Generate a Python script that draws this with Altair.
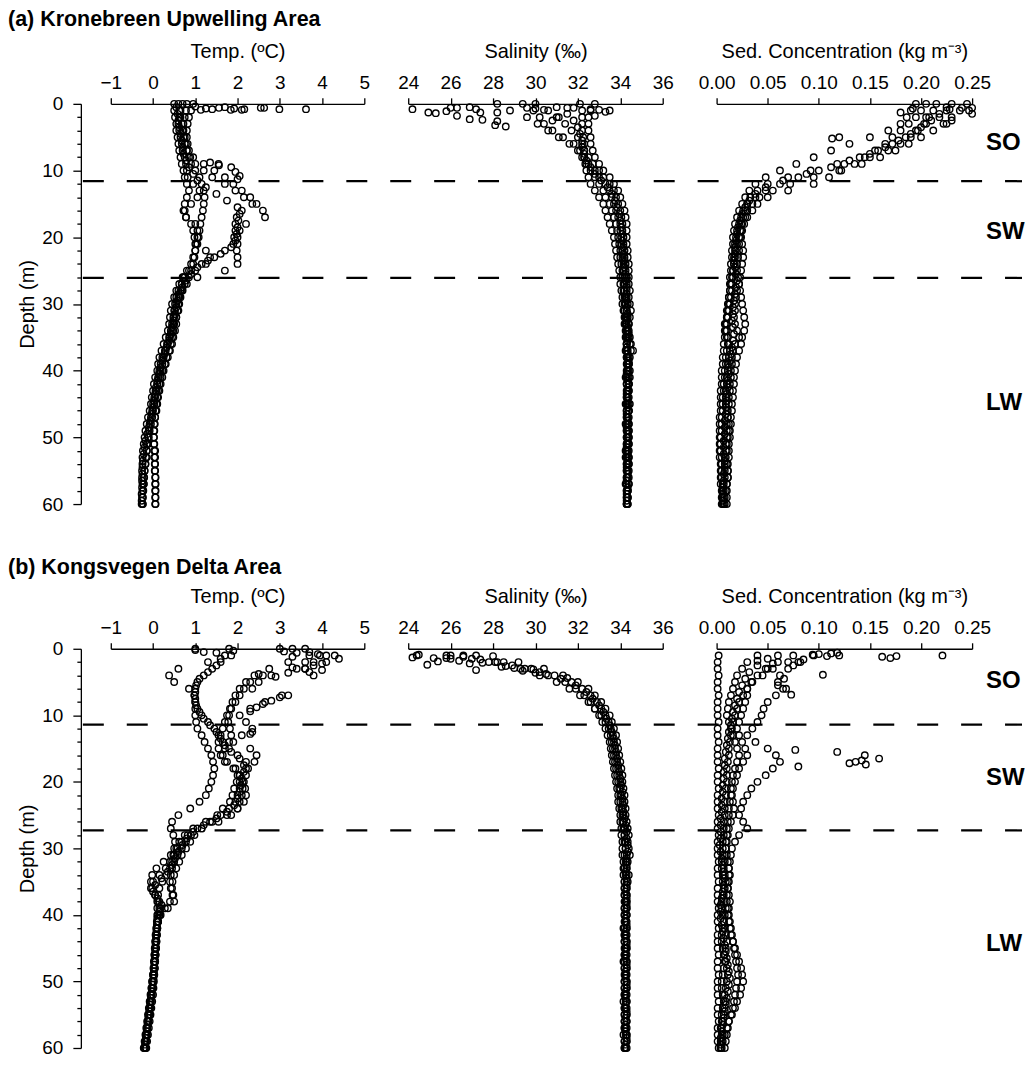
import altair as alt
import pandas as pd

FONT = "Liberation Sans"

# ---------------- depth grids (m) ----------------
DEPTH = [0, 1, 2, 3, 4, 5, 6, 7, 8, 9,
         10, 11, 12, 13, 14, 15, 16, 17, 18, 19,
         20, 21, 22, 23, 24, 25, 26, 27, 28, 29,
         30, 31, 32, 33, 34, 35, 36, 37, 38, 39,
         40, 41, 42, 43, 44, 45, 46, 47, 48, 49,
         50, 51, 52, 53, 54, 55, 56, 57, 58, 59, 60]
DEPTH_HALF = [0.5, 1.5, 2.5, 3.5, 4.5, 5.5, 6.5, 7.5, 8.5, 9.5,
              10.5, 11.5, 12.5, 13.5, 14.5, 15.5, 16.5, 17.5, 18.5, 19.5,
              20.5, 21.5, 22.5, 23.5, 24.5, 25.5, 26.5, 27.5, 28.5, 29.5,
              30.5, 31.5, 32.5, 33.5, 34.5, 35.5, 36.5, 37.5, 38.5, 39.5,
              40.5, 41.5, 42.5, 43.5, 44.5, 45.5, 46.5, 47.5, 48.5, 49.5,
              50.5, 51.5, 52.5, 53.5, 54.5, 55.5, 56.5, 57.5, 58.5, 59.5]
DEPTH_TICKS = [0, 2, 4, 6, 8, 10, 12, 14, 16, 18, 20, 22, 24, 26, 28, 30,
               32, 34, 36, 38, 40, 42, 44, 46, 48, 50, 52, 54, 56, 58, 60]

TEMP_TICKS = [-1, 0, 1, 2, 3, 4, 5]
SAL_TICKS = [24, 26, 28, 30, 32, 34, 36]
SED_TICKS = [0.0, 0.05, 0.10, 0.15, 0.20, 0.25]

ZONE_LABELS = ["SO", "SW", "LW"]
A_ZONE_DEPTH = [5.9, 19.2, 44.8]
B_ZONE_DEPTH = [4.9, 19.4, 44.3]
A_BOUNDARY = [11.6, 26.1]
B_BOUNDARY = [11.4, 27.3]

TITLE_A = "(a) Kronebreen Upwelling Area"
TITLE_B = "(b) Kongsvegen Delta Area"

# ---------------- (a) temperature profiles ----------------
A_TEMP_1 = [0.50, 0.50, 0.52, 0.55, 0.55, 0.58, 0.60, 0.62, 0.65, 0.68,
            0.72, 0.75, 0.80, 0.85, 0.80, 0.75, 0.72, 0.78, 0.90, 0.95,
            0.98, 1.00, 1.00, 0.98, 0.95, 0.85, 0.72, 0.62, 0.55, 0.50,
            0.45, 0.42, 0.40, 0.38, 0.35, 0.30, 0.25, 0.20, 0.15, 0.12,
            0.10, 0.05, 0.02, 0.00, -0.03, -0.05, -0.08, -0.12, -0.15, -0.18,
            -0.20, -0.22, -0.24, -0.25, -0.25, -0.26, -0.26, -0.25, -0.25, -0.26, -0.27]
A_TEMP_2 = [0.80, 0.78, 0.75, 0.72, 0.72, 0.75, 0.78, 0.80, 0.85, 0.90,
            1.00, 1.10, 1.15, 1.20, 1.22, 1.20, 1.18, 1.15, 1.12, 1.10,
            1.08, 1.05, 1.00, 0.95, 0.90, 0.80, 0.70, 0.68, 0.65, 0.62,
            0.60, 0.58, 0.55, 0.55, 0.52, 0.48, 0.45, 0.40, 0.35, 0.30,
            0.25, 0.22, 0.18, 0.15, 0.12, 0.10, 0.08, 0.05, 0.03, 0.02,
            0.02, 0.03, 0.05, 0.05, 0.05, 0.05, 0.06, 0.06, 0.05, 0.05, 0.05]
A_TEMP_3 = [0.95, 0.90, 0.85, 0.82, 0.80, 0.80, 0.82, 0.85, 0.95, 1.20,
            1.45, 1.70, 1.90, 2.10, 2.30, 2.45, 2.60, 2.65, 2.20, 2.05,
            2.00, 2.00, 1.98, 2.00, 2.00, 1.70, 1.05, 0.80, 0.70, 0.65,
            0.62, 0.60, 0.55, 0.50, 0.48, 0.45, 0.42, 0.38, 0.32, 0.28,
            0.22, 0.18, 0.15, 0.12, 0.10, 0.08, 0.06, 0.05, 0.04, 0.03,
            0.02, 0.02, 0.03, 0.03, 0.04, 0.04, 0.05, 0.05, 0.06, 0.06, 0.06]
A_TEMP_4 = [0.60, 0.62, 0.65, 0.68, 0.70, 0.72, 0.75, 0.80, 0.88, 1.00,
            1.20, 1.40, 1.70, 1.95, 2.15, 2.35, 2.10, 1.98, 1.95, 1.95,
            1.92, 1.90, 1.70, 1.45, 1.25, 1.00, 0.85, 0.75, 0.68, 0.60,
            0.55, 0.52, 0.50, 0.48, 0.45, 0.40, 0.35, 0.30, 0.25, 0.22,
            0.18, 0.14, 0.10, 0.08, 0.05, 0.03, 0.00, -0.02, -0.05, -0.08,
            -0.10, -0.12, -0.15, -0.15, -0.18, -0.20, -0.22, -0.22, -0.24, -0.25, -0.25]
A_TEMP_5 = [0.70, 0.65, 0.62, 0.60, 0.62, 0.65, 0.68, 0.70, 0.75, 0.78,
            0.80, 0.82, 0.95, 1.10, 1.05, 0.90, 0.75, 0.78, 1.00, 1.05,
            1.05, 1.02, 1.25, 1.35, 1.15, 0.90, 0.75, 0.68, 0.60, 0.55,
            0.52, 0.50, 0.48, 0.45, 0.42, 0.38, 0.33, 0.28, 0.22, 0.18,
            0.15, 0.12, 0.10, 0.06, 0.03, 0.00, -0.02, -0.05, -0.08, -0.10,
            -0.12, -0.15, -0.15, -0.17, -0.18, -0.20, -0.21, -0.22, -0.23, -0.24, -0.24]
A_TEMP_HALF = [0.55, 0.58, 0.60, 0.62, 0.65, 0.68, 0.70, 0.72, 0.78, 0.85,
               0.95, 1.05, 1.25, 1.50, 1.75, 2.00, 2.05, 2.02, 2.00, 1.98,
               1.95, 1.85, 1.60, 1.30, 1.05, 0.90, 0.78, 0.70, 0.62, 0.58,
               0.55, 0.52, 0.48, 0.45, 0.42, 0.38, 0.32, 0.27, 0.22, 0.18,
               0.14, 0.10, 0.07, 0.05, 0.02, 0.00, -0.03, -0.06, -0.10, -0.14,
               -0.18, -0.20, -0.22, -0.24, -0.25, -0.25, -0.26, -0.26, -0.27, -0.27]
A_TEMP_EXTRA_DEPTH = [0.9, 0.7, 0.8, 0.6, 0.9, 0.7, 0.8, 0.9, 0.6, 0.6, 0.8, 0.8, 0.5, 0.4,
                      9.5, 10.2, 10.8, 11.3, 9.0, 8.8, 9.2]
A_TEMP_EXTRA_VALUE = [1.13, 1.25, 1.40, 1.56, 1.84, 1.92, 2.16, 2.10, 2.55, 2.63, 2.99, 3.62, 1.70, 1.00,
                      1.85, 1.95, 2.05, 2.00, 1.55, 1.35, 1.56]

# ---------------- (a) salinity profiles ----------------
A_SAL_1 = [28.2, 28.8, 29.6, 30.1, 30.6, 31.1, 31.6, 32.0, 32.2, 32.4,
           32.6, 32.8, 33.0, 33.2, 33.3, 33.5, 33.6, 33.7, 33.8, 33.85,
           33.9, 33.95, 34.0, 34.0, 34.05, 34.1, 34.1, 34.15, 34.15, 34.2,
           34.2, 34.2, 34.25, 34.25, 34.3, 34.3, 34.3, 34.3, 34.3, 34.35,
           34.35, 34.3, 34.3, 34.35, 34.3, 34.3, 34.3, 34.3, 34.3, 34.3,
           34.3, 34.3, 34.25, 34.3, 34.3, 34.3, 34.3, 34.3, 34.3, 34.3, 34.3]
A_SAL_2 = [29.4, 29.9, 30.2, 30.4, 30.8, 31.3, 31.8, 32.1, 32.3, 32.5,
           32.8, 33.0, 33.3, 33.5, 33.6, 33.7, 33.8, 33.9, 34.0, 34.0,
           34.05, 34.05, 34.1, 34.1, 34.15, 34.15, 34.2, 34.2, 34.2, 34.25,
           34.25, 34.3, 34.3, 34.3, 34.35, 34.35, 34.3, 34.35, 34.35, 34.4,
           34.35, 34.35, 34.4, 34.35, 34.35, 34.35, 34.4, 34.35, 34.35, 34.35,
           34.35, 34.4, 34.35, 34.35, 34.35, 34.35, 34.35, 34.3, 34.35, 34.35, 34.35]
A_SAL_3 = [30.0, 30.6, 31.1, 31.4, 31.7, 32.0, 32.2, 32.3, 32.5, 32.7,
           33.0, 33.2, 33.5, 33.7, 33.8, 33.9, 34.0, 34.05, 34.1, 34.1,
           34.15, 34.15, 34.2, 34.2, 34.25, 34.25, 34.3, 34.3, 34.3, 34.3,
           34.35, 34.3, 34.35, 34.4, 34.35, 34.4, 34.45, 34.5, 34.4, 34.4,
           34.45, 34.4, 34.4, 34.4, 34.35, 34.4, 34.4, 34.35, 34.4, 34.4,
           34.4, 34.35, 34.4, 34.4, 34.4, 34.35, 34.4, 34.4, 34.35, 34.35, 34.3]
A_SAL_4 = [32.1, 32.2, 32.2, 32.2, 32.2, 32.25, 32.3, 32.3, 32.3, 32.35,
           32.4, 32.5, 32.6, 32.8, 33.0, 33.2, 33.3, 33.4, 33.5, 33.6,
           33.7, 33.75, 33.8, 33.85, 33.9, 33.95, 34.0, 34.0, 34.05, 34.1,
           34.1, 34.15, 34.2, 34.2, 34.25, 34.25, 34.3, 34.25, 34.3, 34.3,
           34.3, 34.25, 34.3, 34.3, 34.3, 34.25, 34.3, 34.3, 34.25, 34.3,
           34.3, 34.3, 34.3, 34.25, 34.3, 34.3, 34.3, 34.25, 34.3, 34.3, 34.3]
A_SAL_5 = [32.8, 32.6, 32.5, 32.5, 32.5, 32.6, 32.6, 32.7, 32.8, 33.0,
           33.2, 33.5, 33.7, 33.9, 34.0, 34.1, 34.2, 34.25, 34.3, 34.3,
           34.3, 34.3, 34.35, 34.35, 34.4, 34.4, 34.4, 34.4, 34.45, 34.4,
           34.45, 34.5, 34.45, 34.4, 34.4, 34.45, 34.5, 34.6, 34.45, 34.4,
           34.4, 34.45, 34.4, 34.4, 34.4, 34.45, 34.4, 34.4, 34.4, 34.4,
           34.4, 34.4, 34.35, 34.4, 34.4, 34.4, 34.35, 34.4, 34.35, 34.35, 34.35]
A_SAL_HALF = [31.0, 31.5, 31.8, 32.0, 32.1, 32.2, 32.2, 32.3, 32.4, 32.6,
              32.8, 33.1, 33.4, 33.6, 33.75, 33.85, 33.95, 34.0, 34.05, 34.1,
              34.1, 34.15, 34.15, 34.2, 34.2, 34.25, 34.25, 34.3, 34.3, 34.3,
              34.3, 34.35, 34.3, 34.35, 34.4, 34.35, 34.3, 34.35, 34.4, 34.35,
              34.3, 34.35, 34.35, 34.3, 34.35, 34.35, 34.3, 34.35, 34.3, 34.35,
              34.35, 34.3, 34.35, 34.35, 34.3, 34.35, 34.3, 34.35, 34.3, 34.3]
A_SAL_EXTRA_DEPTH = [0.8, 1.3, 1.4, 1.1, 0.6, 1.8, 0.6, 2.3, 0.5, 0.8, 1.3, 2.4, 1.3, 3.2,
                     2.6, 3.4, 0.6, 0.7, 0.9, 0.6, 0.6, 0.8, 0.9, 1.2, 1.0, 1.8, 2.0, 2.5]
A_SAL_EXTRA_VALUE = [24.2, 24.95, 25.3, 25.8, 26.0, 26.3, 26.3, 26.9, 26.9, 27.2, 27.4, 27.5, 28.2, 28.1,
                     28.2, 28.6, 29.6, 30.0, 30.4, 31.5, 31.8, 32.6, 33.0, 33.3, 33.5, 32.8, 31.0, 30.8]

# ---------------- (a) sediment concentration profiles ----------------
A_SED_1 = [0.245, 0.238, 0.230, 0.222, 0.212, 0.200, 0.188, 0.175, 0.160, 0.142,
           0.120, 0.095, 0.072, 0.055, 0.042, 0.035, 0.030, 0.028, 0.025, 0.024,
           0.023, 0.022, 0.022, 0.021, 0.020, 0.020, 0.021, 0.022, 0.020, 0.019,
           0.018, 0.018, 0.017, 0.018, 0.020, 0.022, 0.018, 0.016, 0.015, 0.015,
           0.014, 0.014, 0.013, 0.013, 0.012, 0.012, 0.011, 0.011, 0.010, 0.010,
           0.010, 0.009, 0.009, 0.008, 0.008, 0.008, 0.008, 0.007, 0.007, 0.007, 0.007]
A_SED_2 = [0.215, 0.212, 0.208, 0.203, 0.197, 0.190, 0.180, 0.168, 0.150, 0.125,
           0.100, 0.080, 0.062, 0.048, 0.038, 0.030, 0.026, 0.024, 0.022, 0.020,
           0.019, 0.018, 0.018, 0.017, 0.017, 0.016, 0.016, 0.015, 0.015, 0.014,
           0.013, 0.012, 0.010, 0.008, 0.009, 0.010, 0.011, 0.010, 0.009, 0.009,
           0.008, 0.008, 0.007, 0.007, 0.006, 0.006, 0.006, 0.005, 0.005, 0.005,
           0.004, 0.004, 0.004, 0.005, 0.005, 0.005, 0.005, 0.006, 0.006, 0.006, 0.006]
A_SED_3 = [0.195, 0.190, 0.186, 0.180, 0.168, 0.150, 0.130, 0.112, 0.095, 0.078,
           0.062, 0.048, 0.038, 0.032, 0.028, 0.025, 0.022, 0.020, 0.018, 0.017,
           0.016, 0.016, 0.015, 0.015, 0.014, 0.014, 0.013, 0.013, 0.013, 0.012,
           0.012, 0.011, 0.011, 0.010, 0.010, 0.011, 0.012, 0.013, 0.012, 0.011,
           0.011, 0.010, 0.010, 0.009, 0.009, 0.009, 0.010, 0.011, 0.012, 0.012,
           0.011, 0.010, 0.010, 0.009, 0.010, 0.011, 0.011, 0.010, 0.009, 0.008, 0.008]
A_SED_4 = [0.230, 0.225, 0.218, 0.205, 0.195, 0.185, 0.172, 0.158, 0.140, 0.118,
           0.092, 0.070, 0.050, 0.040, 0.033, 0.030, 0.028, 0.026, 0.024, 0.023,
           0.024, 0.025, 0.026, 0.026, 0.025, 0.024, 0.023, 0.022, 0.023, 0.024,
           0.025, 0.026, 0.027, 0.028, 0.027, 0.025, 0.024, 0.022, 0.020, 0.019,
           0.018, 0.017, 0.017, 0.016, 0.016, 0.015, 0.015, 0.014, 0.014, 0.013,
           0.013, 0.012, 0.012, 0.012, 0.011, 0.011, 0.011, 0.010, 0.010, 0.010, 0.010]
A_SED_5 = [0.205, 0.200, 0.195, 0.188, 0.180, 0.172, 0.165, 0.155, 0.145, 0.135,
           0.122, 0.110, 0.095, 0.070, 0.050, 0.040, 0.035, 0.030, 0.027, 0.025,
           0.022, 0.020, 0.019, 0.018, 0.017, 0.016, 0.015, 0.014, 0.013, 0.012,
           0.011, 0.010, 0.010, 0.009, 0.008, 0.008, 0.007, 0.007, 0.006, 0.006,
           0.005, 0.005, 0.005, 0.004, 0.004, 0.004, 0.004, 0.003, 0.003, 0.003,
           0.003, 0.003, 0.003, 0.003, 0.004, 0.004, 0.004, 0.004, 0.005, 0.005, 0.005]
A_SED_HALF = [0.225, 0.218, 0.210, 0.200, 0.190, 0.178, 0.165, 0.150, 0.130, 0.112,
              0.088, 0.065, 0.048, 0.038, 0.032, 0.028, 0.025, 0.023, 0.021, 0.020,
              0.019, 0.018, 0.018, 0.017, 0.018, 0.019, 0.020, 0.019, 0.018, 0.017,
              0.016, 0.016, 0.015, 0.016, 0.017, 0.016, 0.015, 0.014, 0.013, 0.012,
              0.012, 0.011, 0.011, 0.010, 0.010, 0.009, 0.009, 0.008, 0.008, 0.008,
              0.007, 0.007, 0.007, 0.008, 0.008, 0.007, 0.007, 0.006, 0.006, 0.006]
A_SED_EXTRA_DEPTH = [0.6, 0.6, 1.0, 1.5, 0.8, 2.0, 1.3, 0.7, 2.5, 3.0, 5.0, 5.2]
A_SED_EXTRA_VALUE = [0.240, 0.250, 0.247, 0.250, 0.228, 0.205, 0.180, 0.192, 0.230, 0.225, 0.120, 0.113]

# ---------------- (b) temperature profiles ----------------
B_TEMP_1 = [1.00, 1.70, 1.30, 0.60, 0.38, 0.50, 0.85, 0.98, 1.00, 1.00,
            1.00, 1.02, 1.05, 1.15, 1.22, 1.30, 1.38, 1.42, 1.45, 1.42,
            1.38, 1.32, 1.25, 1.10, 0.88, 0.60, 0.45, 0.42, 0.48, 0.52,
            0.50, 0.42, 0.25, 0.08, -0.02, -0.05, -0.02, 0.05, 0.12, 0.15,
            0.12, 0.10, 0.08, 0.06, 0.05, 0.04, 0.03, 0.02, 0.01, 0.00,
            -0.02, -0.04, -0.06, -0.08, -0.10, -0.12, -0.14, -0.16, -0.18, -0.20, -0.22]
B_TEMP_2 = [1.80, 1.85, 1.60, 1.40, 1.20, 1.05, 1.00, 0.98, 1.00, 1.05,
            1.15, 1.30, 1.45, 1.55, 1.65, 1.80, 2.00, 2.20, 2.25, 2.20,
            2.15, 2.12, 2.10, 2.05, 2.00, 1.85, 1.55, 1.15, 0.90, 0.78,
            0.68, 0.58, 0.50, 0.45, 0.42, 0.40, 0.42, 0.48, 0.50, 0.35,
            0.18, 0.12, 0.10, 0.08, 0.07, 0.06, 0.05, 0.04, 0.03, 0.02,
            0.00, -0.02, -0.04, -0.06, -0.08, -0.10, -0.12, -0.14, -0.16, -0.18, -0.20]
B_TEMP_3 = [3.00, 3.70, 3.20, 2.75, 2.40, 2.20, 2.05, 1.95, 1.88, 1.82,
            1.75, 1.70, 1.65, 1.60, 1.55, 1.55, 1.60, 1.75, 1.95, 2.05,
            2.12, 2.18, 2.20, 2.15, 2.00, 1.75, 1.40, 1.05, 0.82, 0.68,
            0.58, 0.50, 0.45, 0.40, 0.32, 0.22, 0.15, 0.12, 0.10, 0.10,
            0.10, 0.09, 0.08, 0.07, 0.06, 0.05, 0.04, 0.03, 0.02, 0.00,
            -0.02, -0.03, -0.05, -0.06, -0.08, -0.10, -0.12, -0.14, -0.15, -0.17, -0.18]
B_TEMP_4 = [3.60, 4.30, 4.10, 3.60, 2.80, 2.50, 2.35, 3.05, 2.65, 2.30,
            2.05, 2.20, 2.35, 2.10, 1.90, 2.30, 2.45, 2.40, 2.20, 2.05,
            1.98, 1.92, 1.88, 1.82, 1.65, 1.52, 1.35, 1.15, 0.98, 0.88,
            0.78, 0.68, 0.62, 0.55, 0.50, 0.46, 0.45, 0.46, 0.40, 0.28,
            0.16, 0.12, 0.10, 0.09, 0.08, 0.07, 0.06, 0.05, 0.04, 0.03,
            0.02, 0.01, 0.00, -0.02, -0.04, -0.06, -0.08, -0.10, -0.12, -0.14, -0.16]
B_TEMP_5 = [3.30, 3.95, 3.80, 3.40, 2.60, 2.30, 2.15, 2.05, 1.95, 1.85,
            1.80, 1.78, 1.82, 1.85, 1.80, 1.70, 1.65, 1.70, 1.90, 2.00,
            2.05, 2.05, 2.00, 1.95, 1.80, 1.60, 1.25, 0.95, 0.75, 0.62,
            0.55, 0.48, 0.40, 0.30, 0.15, 0.00, -0.05, 0.05, 0.15, 0.18,
            0.15, 0.12, 0.10, 0.09, 0.08, 0.07, 0.06, 0.05, 0.04, 0.02,
            0.00, -0.02, -0.03, -0.05, -0.07, -0.09, -0.11, -0.13, -0.15, -0.17, -0.19]
B_TEMP_HALF = [1.20, 1.60, 1.50, 1.30, 1.10, 1.02, 1.00, 1.00, 1.02, 1.10,
               1.20, 1.35, 1.50, 1.60, 1.70, 1.85, 2.05, 2.15, 2.15, 2.10,
               2.08, 2.05, 2.00, 1.92, 1.75, 1.50, 1.20, 0.95, 0.80, 0.70,
               0.60, 0.52, 0.45, 0.35, 0.20, 0.05, 0.00, 0.10, 0.20, 0.15,
               0.10, 0.09, 0.08, 0.07, 0.06, 0.05, 0.04, 0.03, 0.02, 0.01,
               -0.01, -0.03, -0.05, -0.07, -0.09, -0.11, -0.13, -0.15, -0.17, -0.19]
B_TEMP_EXTRA_DEPTH = [0.4, 0.6, 0.5, 0.8, 1.0, 1.5, 2.0, 2.2, 2.5, 3.0, 3.2, 3.5, 4.0, 1.2, 2.8,
                      3.6, 4.2, 0.3, 0.6, 7.0, 7.3, 7.8, 8.3, 8.8, 9.4, 12.5, 12.8, 0.2, 3.8]
B_TEMP_EXTRA_VALUE = [3.10, 3.40, 3.70, 3.90, 4.10, 4.40, 3.60, 4.00, 3.80, 3.60, 4.00, 3.70, 3.80, 3.30, 3.30,
                      3.20, 2.90, 1.90, 1.50, 3.20, 3.00, 2.80, 2.60, 2.45, 2.30, 2.35, 2.30, 1.00, 2.50]

# ---------------- (b) salinity profiles ----------------
B_SAL_1 = [None, 24.4, 27.8, 29.3, 30.6, 31.4, 31.9, 32.3, 32.6, 32.8,
           33.0, 33.15, 33.3, 33.4, 33.5, 33.55, 33.6, 33.65, 33.7, 33.75,
           33.8, 33.85, 33.9, 33.9, 33.95, 34.0, 34.0, 34.05, 34.05, 34.1,
           34.1, 34.1, 34.15, 34.15, 34.15, 34.2, 34.2, 34.2, 34.2, 34.2,
           34.2, 34.2, 34.15, 34.2, 34.2, 34.2, 34.2, 34.15, 34.2, 34.2,
           34.2, 34.2, 34.2, 34.15, 34.2, 34.2, 34.2, 34.2, 34.15, 34.2, 34.2]
B_SAL_2 = [None, 25.8, 28.5, 29.8, 30.9, 31.7, 32.2, 32.6, 32.9, 33.1,
           33.3, 33.45, 33.55, 33.65, 33.7, 33.75, 33.8, 33.85, 33.9, 33.95,
           34.0, 34.0, 34.05, 34.1, 34.1, 34.15, 34.15, 34.2, 34.2, 34.25,
           34.25, 34.3, 34.3, 34.3, 34.3, 34.3, 34.3, 34.3, 34.3, 34.3,
           34.3, 34.25, 34.3, 34.3, 34.3, 34.3, 34.25, 34.3, 34.3, 34.3,
           34.3, 34.3, 34.25, 34.3, 34.3, 34.3, 34.3, 34.25, 34.3, 34.3, 34.3]
B_SAL_3 = [None, 27.2, 29.2, 30.4, 31.3, 32.0, 32.5, 32.8, 33.1, 33.3,
           33.5, 33.6, 33.7, 33.8, 33.85, 33.9, 33.95, 34.0, 34.05, 34.1,
           34.1, 34.15, 34.2, 34.2, 34.25, 34.25, 34.3, 34.35, 34.4, 34.35,
           34.4, 34.45, 34.35, 34.3, 34.4, 34.35, 34.3, 34.3, 34.3, 34.3,
           34.3, 34.3, 34.3, 34.25, 34.3, 34.3, 34.3, 34.3, 34.3, 34.25,
           34.3, 34.3, 34.3, 34.3, 34.25, 34.3, 34.3, 34.3, 34.3, 34.3, 34.25]
B_SAL_4 = [None, 26.6, 28.2, 29.5, 30.2, 31.0, 31.6, 32.1, 32.5, 32.8,
           33.1, 33.3, 33.45, 33.55, 33.6, 33.65, 33.7, 33.75, 33.8, 33.85,
           33.9, 33.95, 34.0, 34.0, 34.05, 34.1, 34.1, 34.15, 34.2, 34.2,
           34.25, 34.2, 34.25, 34.2, 34.25, 34.2, 34.2, 34.2, 34.25, 34.2,
           34.2, 34.25, 34.2, 34.2, 34.2, 34.25, 34.2, 34.2, 34.2, 34.25,
           34.2, 34.2, 34.2, 34.25, 34.2, 34.2, 34.2, 34.2, 34.25, 34.2, 34.2]
B_SAL_HALF = [None, 26.0, 28.9, 30.2, 31.2, 31.9, 32.4, 32.7, 33.0, 33.2,
              33.35, 33.5, 33.6, 33.7, 33.75, 33.8, 33.85, 33.9, 33.95, 34.0,
              34.05, 34.1, 34.1, 34.15, 34.15, 34.2, 34.25, 34.3, 34.3, 34.35,
              34.35, 34.3, 34.3, 34.25, 34.3, 34.3, 34.25, 34.3, 34.3, 34.25,
              34.25, 34.3, 34.25, 34.25, 34.3, 34.25, 34.25, 34.3, 34.25, 34.25,
              34.3, 34.25, 34.25, 34.25, 34.3, 34.25, 34.25, 34.25, 34.3, 34.25]
B_SAL_EXTRA_DEPTH = [1.3, 0.9, 2.4, 1.4, 1.9, 1.4, 1.0, 1.8, 1.2, 2.2, 3.2, 1.6,
                     1.1, 2.0, 2.6, 1.5, 2.9, 3.3, 3.6, 2.1, 2.7, 3.1, 4.4, 3.8]
B_SAL_EXTRA_VALUE = [24.2, 24.5, 24.9, 25.2, 25.4, 25.8, 26.0, 26.4, 26.6, 26.9, 27.2, 27.4,
                     28.0, 28.1, 28.6, 27.0, 29.0, 29.4, 30.0, 27.5, 28.4, 29.9, 31.5, 30.5]

# ---------------- (b) sediment concentration profiles ----------------
B_SED_1 = [None, 0.002, 0.001, 0.001, 0.002, 0.001, 0.001, 0.002, 0.001, 0.001,
           0.001, 0.002, 0.001, 0.001, 0.002, 0.001, 0.001, 0.001, 0.002, 0.001,
           0.001, 0.002, 0.001, 0.001, 0.001, 0.002, 0.001, 0.001, 0.002, 0.001,
           0.001, 0.001, 0.002, 0.001, 0.001, 0.002, 0.001, 0.001, 0.001, 0.002,
           0.001, 0.001, 0.002, 0.001, 0.001, 0.001, 0.002, 0.001, 0.001, 0.002,
           0.001, 0.001, 0.001, 0.002, 0.001, 0.001, 0.002, 0.001, 0.001, 0.001, 0.002]
B_SED_2 = [None, 0.075, 0.060, 0.048, 0.040, 0.034, 0.030, 0.026, 0.022, 0.020,
           0.018, 0.016, 0.015, 0.014, 0.013, 0.012, 0.012, 0.011, 0.010, 0.010,
           0.010, 0.009, 0.009, 0.008, 0.008, 0.008, 0.007, 0.007, 0.007, 0.006,
           0.006, 0.006, 0.005, 0.005, 0.006, 0.006, 0.007, 0.006, 0.005, 0.005,
           0.006, 0.007, 0.006, 0.005, 0.005, 0.006, 0.007, 0.008, 0.007, 0.006,
           0.005, 0.005, 0.006, 0.007, 0.006, 0.005, 0.005, 0.004, 0.005, 0.004, 0.004]
B_SED_3 = [None, 0.095, 0.082, 0.070, 0.062, 0.060, 0.065, 0.058, 0.050, 0.046,
           0.044, 0.040, 0.035, 0.030, 0.038, 0.050, 0.058, 0.062, 0.055, 0.048,
           0.040, 0.034, 0.030, 0.026, 0.024, 0.022, 0.026, 0.030, 0.022, 0.018,
           0.015, 0.014, 0.013, 0.012, 0.012, 0.011, 0.011, 0.012, 0.013, 0.012,
           0.011, 0.012, 0.013, 0.014, 0.016, 0.018, 0.020, 0.022, 0.024, 0.025,
           0.026, 0.024, 0.023, 0.020, 0.018, 0.015, 0.012, 0.010, 0.008, 0.006, 0.005]
B_SED_4 = [None, 0.040, 0.030, 0.025, 0.020, 0.018, 0.016, 0.014, 0.012, 0.011,
           0.010, 0.012, 0.014, 0.016, 0.018, 0.020, 0.022, 0.020, 0.018, 0.016,
           0.015, 0.014, 0.014, 0.013, 0.012, 0.012, 0.011, 0.010, 0.010, 0.009,
           0.009, 0.010, 0.011, 0.012, 0.013, 0.012, 0.011, 0.010, 0.010, 0.011,
           0.012, 0.013, 0.014, 0.015, 0.016, 0.017, 0.018, 0.019, 0.020, 0.021,
           0.020, 0.019, 0.018, 0.017, 0.016, 0.014, 0.012, 0.011, 0.010, 0.009, 0.008]
B_SED_5 = [None, 0.060, 0.070, 0.055, 0.045, 0.035, 0.030, 0.030, 0.028, 0.026,
           0.024, 0.022, 0.020, 0.022, 0.025, 0.028, 0.030, 0.026, 0.022, 0.020,
           0.018, 0.016, 0.015, 0.016, 0.017, 0.016, 0.014, 0.012, 0.011, 0.010,
           0.009, 0.008, 0.008, 0.007, 0.008, 0.009, 0.008, 0.007, 0.008, 0.009,
           0.008, 0.007, 0.008, 0.009, 0.010, 0.009, 0.008, 0.009, 0.010, 0.011,
           0.010, 0.009, 0.008, 0.009, 0.008, 0.007, 0.006, 0.005, 0.006, 0.005, 0.004]
B_SED_HALF = [None, 0.050, 0.040, 0.032, 0.028, 0.025, 0.022, 0.020, 0.018, 0.016,
              0.015, 0.014, 0.012, 0.011, 0.010, 0.009, 0.008, 0.008, 0.007, 0.007,
              0.006, 0.006, 0.005, 0.005, 0.005, 0.004, 0.004, 0.004, 0.004, 0.003,
              0.004, 0.005, 0.006, 0.007, 0.008, 0.007, 0.006, 0.005, 0.004, 0.004,
              0.004, 0.005, 0.006, 0.007, 0.008, 0.009, 0.010, 0.011, 0.012, 0.013,
              0.012, 0.011, 0.010, 0.009, 0.008, 0.007, 0.006, 0.005, 0.004, 0.004]
B_SED_EXTRA_DEPTH = [0.9, 0.8, 1.1, 0.7, 0.6, 1.0, 1.2, 1.4, 1.1, 1.0, 3.9, 6.9, 2.0, 2.5, 15.2,
                     17.7, 15.5, 17.2, 17.0, 16.8, 16.0, 16.5, 17.4, 4.5, 5.5, 6.0, 3.0, 2.2, 1.6, 1.8]
B_SED_EXTRA_VALUE = [0.094, 0.100, 0.108, 0.112, 0.118, 0.120, 0.162, 0.170, 0.176, 0.221, 0.104, 0.073, 0.080, 0.075, 0.077,
                     0.080, 0.118, 0.130, 0.136, 0.142, 0.145, 0.159, 0.146, 0.066, 0.060, 0.068, 0.050, 0.055, 0.085, 0.040]


def build_df(profiles, half_profile, extra_d, extra_v):
    rows = []
    for prof in profiles:
        for d, v in zip(DEPTH, prof):
            if v is not None:
                rows.append((d, v))
    for d, v in zip(DEPTH_HALF, half_profile):
        if v is not None:
            rows.append((d, v))
    rows += list(zip(extra_d, extra_v))
    return pd.DataFrame(rows, columns=["depth", "value"])


Y_SCALE = alt.Scale(domain=[0, 60], reverse=True, nice=False, zero=False)


def y_enc(show_axis):
    if show_axis:
        axis = alt.Axis(
            orient="left", offset=30, title="Depth (m)", values=DEPTH_TICKS,
            labelExpr="datum.value % 10 === 0 ? datum.label : ''",
            tickSize={"condition": {"test": "datum.value % 10 === 0", "value": 8}, "value": 4},
            labelPadding=10, titlePadding=4, labelFlush=False,
        )
        return alt.Y("depth:Q", scale=Y_SCALE, axis=axis)
    return alt.Y("depth:Q", scale=Y_SCALE, axis=None)


def x_enc(title, domain, ticks, fmt, rng=None):
    sc = dict(domain=domain, nice=False, zero=False)
    if rng is not None:
        sc["range"] = rng
    return alt.X(
        "value:Q",
        scale=alt.Scale(**sc),
        axis=alt.Axis(orient="top", title=title, values=ticks, format=fmt,
                      tickSize=6, labelPadding=5, titlePadding=12,
                      labelOverlap=False, labelFlush=False),
    )


def panel(df, xtitle, domain, ticks, fmt, width, height, rng=None, first=False, last=False,
          boundaries=None, zones=None, row_title=None, title_offset=0):
    y = y_enc(first)
    pts = alt.Chart(df).mark_point(
        shape="circle", filled=False, color="black", size=42, strokeWidth=1.4, opacity=1
    ).encode(x=x_enc(xtitle, domain, ticks, fmt, rng), y=y)
    layers = [pts]
    if first:
        bdf = pd.DataFrame({"depth": boundaries})
        rule = alt.Chart(bdf).mark_rule(
            color="black", strokeWidth=2.2, strokeDash=[21, 23]
        ).encode(y=y, x=alt.value(-28), x2=alt.value(913))
        layers.append(rule)
    if last:
        zdf = pd.DataFrame({"depth": zones, "label": ZONE_LABELS})
        txt = alt.Chart(zdf).mark_text(
            align="left", baseline="middle", font=FONT, fontSize=24,
            fontWeight="bold", color="black"
        ).encode(y=y, x=alt.value(280), text="label:N")
        layers.append(txt)
    props = dict(width=width, height=height)
    if row_title is not None:
        props["title"] = alt.TitleParams(
            row_title, anchor="start", frame="group", dx=-103, offset=title_offset,
            fontSize=21.5, fontWeight="bold", font=FONT, color="black",
            baseline="alphabetic",
        )
    return alt.layer(*layers).properties(**props)


def row(temp_df, sal_df, sed_df, height, boundaries, zones, title, toff):
    t = panel(temp_df, "Temp. (ºC)", [-1, 5], TEMP_TICKS, "d", 254, height,
              first=True, boundaries=boundaries, row_title=title, title_offset=toff)
    s = panel(sal_df, "Salinity (‰)", [24, 36], SAL_TICKS, "d", 255, height)
    c = panel(sed_df, "Sed. Concentration (kg m⁻³)", [0, 0.25], SED_TICKS, ".2f", 266, height,
              rng=[10, 266], last=True, zones=zones)
    return [t, s, c]


a_temp = build_df([A_TEMP_1, A_TEMP_2, A_TEMP_3, A_TEMP_4, A_TEMP_5], A_TEMP_HALF,
                  A_TEMP_EXTRA_DEPTH, A_TEMP_EXTRA_VALUE)
a_sal = build_df([A_SAL_1, A_SAL_2, A_SAL_3, A_SAL_4, A_SAL_5], A_SAL_HALF,
                 A_SAL_EXTRA_DEPTH, A_SAL_EXTRA_VALUE)
a_sed = build_df([A_SED_1, A_SED_2, A_SED_3, A_SED_4, A_SED_5], A_SED_HALF,
                 A_SED_EXTRA_DEPTH, A_SED_EXTRA_VALUE)
b_temp = build_df([B_TEMP_1, B_TEMP_2, B_TEMP_3, B_TEMP_4, B_TEMP_5], B_TEMP_HALF,
                  B_TEMP_EXTRA_DEPTH, B_TEMP_EXTRA_VALUE)
b_sal = build_df([B_SAL_1, B_SAL_2, B_SAL_3, B_SAL_4], B_SAL_HALF,
                 B_SAL_EXTRA_DEPTH, B_SAL_EXTRA_VALUE)
b_sed = build_df([B_SED_1, B_SED_2, B_SED_3, B_SED_4, B_SED_5], B_SED_HALF,
                 B_SED_EXTRA_DEPTH, B_SED_EXTRA_VALUE)

panels = (row(a_temp, a_sal, a_sed, 401, A_BOUNDARY, A_ZONE_DEPTH, TITLE_A, -5.5)
          + row(b_temp, b_sal, b_sed, 400, B_BOUNDARY, B_ZONE_DEPTH, TITLE_B, -9))

chart = alt.concat(
    *panels, columns=3, spacing={"row": 145, "column": 44}, bounds="flush"
).properties(
    padding={"left": 0, "top": 0, "right": 0, "bottom": 0}
).configure_view(stroke=None).configure_axis(
    labelFont=FONT, titleFont=FONT, labelFontSize=19, titleFontSize=20,
    titleFontWeight="normal", labelColor="black", titleColor="black",
    domainColor="black", tickColor="black", domainWidth=1.3, tickWidth=1.3, grid=False,
)

chart.save("out.html", embed_options={"renderer": "svg", "actions": False})
